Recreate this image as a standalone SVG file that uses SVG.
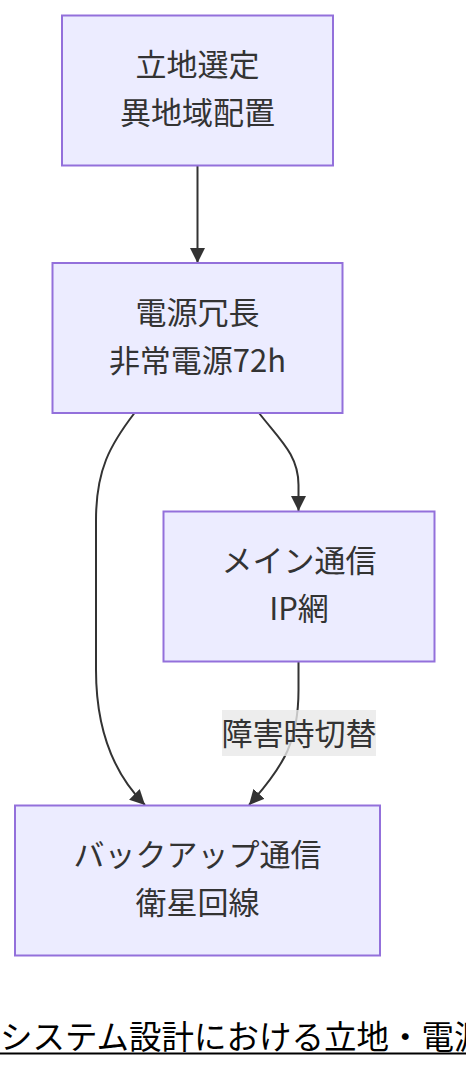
<svg xmlns="http://www.w3.org/2000/svg" width="466" height="1068" viewBox="0 0 466 1068">
<defs>
<style>
.node rect{fill:#ECECFF;stroke:#9370DB;stroke-width:2}
.node text,.lbl text{font-family:"Noto Sans CJK JP","Noto Sans",sans-serif;font-size:31px;fill:#333;text-anchor:middle}
.edge{fill:none;stroke:#333;stroke-width:2;marker-end:url(#arr)}
.title{font-family:"Noto Sans CJK JP","Noto Sans",sans-serif;font-size:32.5px;fill:#000}
</style>
<marker id="arr" viewBox="0 0 10 10" refX="10" refY="5" markerWidth="15" markerHeight="15" markerUnits="userSpaceOnUse" orient="auto">
<path d="M0,0 L10,5 L0,10 z" fill="#333"/>
</marker>
</defs>
<rect width="466" height="1068" fill="#fff"/>
<g id="connectors">
<path class="edge" d="M197.5,166 L197.5,263"/>
<path class="edge" d="M259,413 C280,440 298.5,455 298.5,485 L298.5,511"/>
<path class="edge" d="M134.5,413 C110,445 96,470 96,520 L96,670 C96,725 110,770 145,805"/>
<path class="edge" d="M298.5,662 L298.5,690 C298.5,740 285,765 249,805"/>
</g>
<g id="label-switch" class="lbl">
<rect x="222" y="710" width="154" height="46" fill="#e8e8e8" opacity="0.8"/>
<text x="299" y="745">障害時切替</text>
</g>
<g id="node-site" class="node">
<rect x="62" y="15.5" width="271" height="150"/>
<text x="197.5" y="76">立地選定</text>
<text x="197.5" y="124">異地域配置</text>
</g>
<g id="node-power" class="node">
<rect x="52.5" y="263" width="290" height="150"/>
<text x="197.5" y="323.5">電源冗長</text>
<text x="197.5" y="371.5">非常電源72h</text>
</g>
<g id="node-main" class="node">
<rect x="163.5" y="511.5" width="271" height="150"/>
<text x="299" y="572">メイン通信</text>
<text x="299" y="620">IP網</text>
</g>
<g id="node-backup" class="node">
<rect x="15" y="805.5" width="365" height="150"/>
<text x="197.5" y="866">バックアップ通信</text>
<text x="197.5" y="914">衛星回線</text>
</g>
<g id="title">
<text class="title" x="0" y="1048.5">システム設計における立地・電源</text>
<rect x="0" y="1052.5" width="466" height="2" fill="#000"/>
</g>
</svg>
